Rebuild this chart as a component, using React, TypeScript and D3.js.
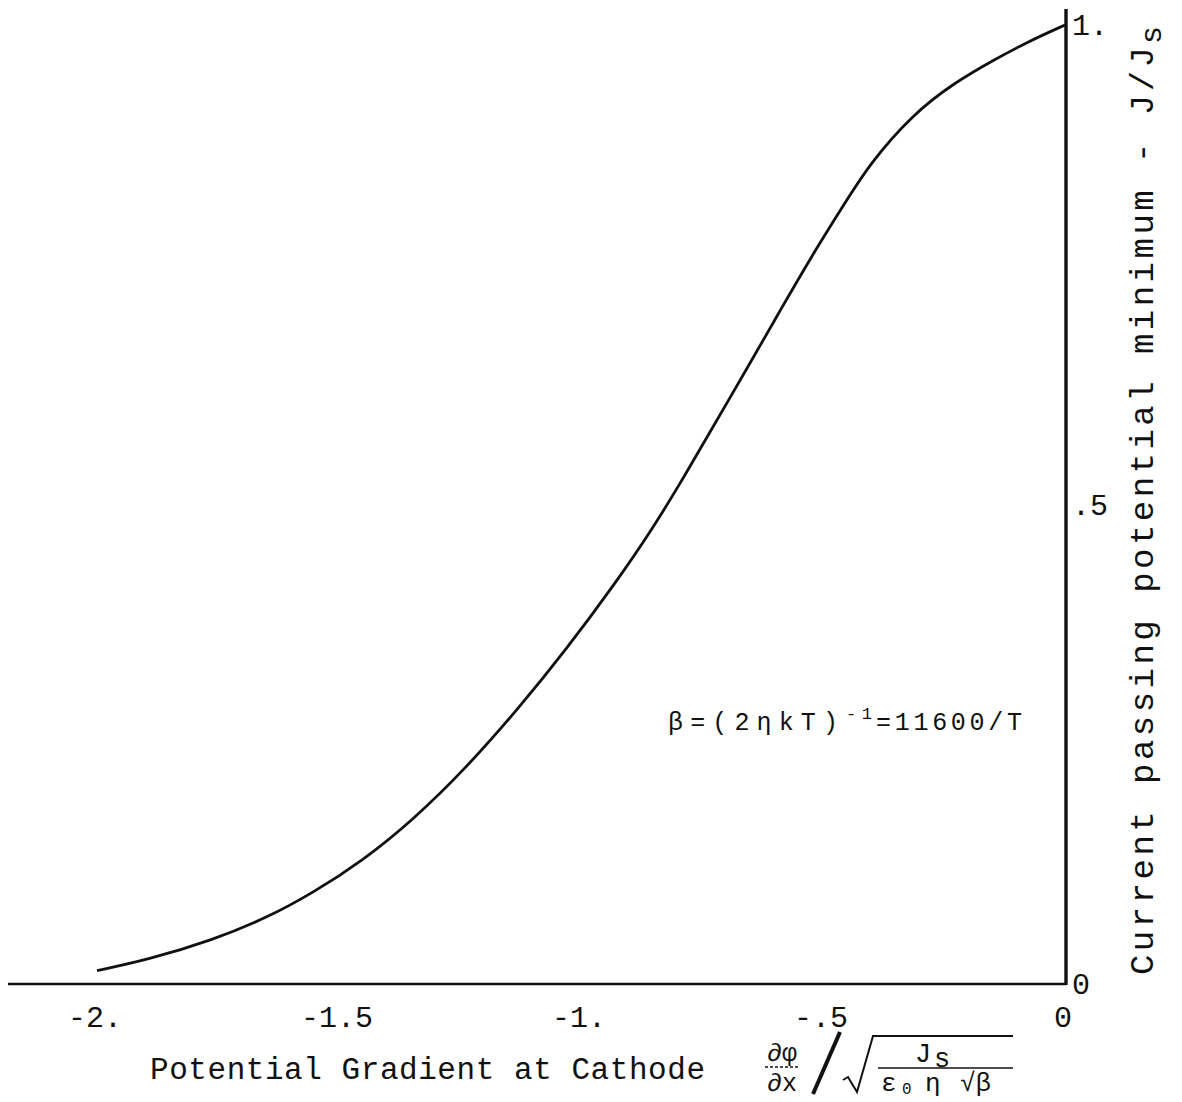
import React from "react";
import * as d3 from "d3";

// Potential gradient at cathode (normalised) and current passing potential minimum J/Js
const gradient = [
  -2.0, -1.897, -1.76, -1.649, -1.554, -1.45, -1.347, -1.236, -1.133, -1.03,
  -0.926, -0.857, -0.795, -0.74, -0.651, -0.589, -0.521, -0.465, -0.403,
  -0.314, -0.231, -0.149, -0.079, 0.0,
];
const currentRatio = [
  0.014, 0.025, 0.046, 0.069, 0.095, 0.129, 0.171, 0.226, 0.285, 0.349,
  0.42, 0.471, 0.522, 0.57, 0.647, 0.702, 0.761, 0.806, 0.856, 0.907,
  0.939, 0.963, 0.982, 1.0,
];

const xTicks = [-2, -1.5, -1, -0.5, 0];
const xTickLabels = ["-2.", "-1.5", "-1.", "-.5", "0"];
const yTicks = [0, 0.5, 1];
const yTickLabels = ["0", ".5", "1."];

const xTitle = "Potential Gradient at Cathode";
const yTitle = "Current passing potential minimum - J/J";
const yTitleSub = "s";

const FONT = "'Liberation Mono', 'Courier New', monospace";
const INK = "#111";

export default function App() {
  const W = 1182;
  const H = 1102;
  const x = d3.scaleLinear().domain([-2, 0]).range([97, 1065]);
  const y = d3.scaleLinear().domain([0, 1]).range([984, 25]);

  const pts: [number, number][] = gradient.map((g, i) => [g, currentRatio[i]]);
  const line = d3
    .line<[number, number]>()
    .x((d) => x(d[0]))
    .y((d) => y(d[1]))
    .curve(d3.curveBasis);

  const x0 = x(0);
  const y0 = y(0);

  return (
    <svg
      width={W}
      height={H}
      style={{ position: "absolute", left: 0, top: 0, background: "#fff" }}
      fontFamily={FONT}
    >
      <rect x={0} y={0} width={W} height={H} fill="#fff" />
      {/* axes */}
      <line x1={8} x2={x0 + 1.5} y1={y0} y2={y0} stroke={INK} strokeWidth={2.6} />
      <line x1={x0 + 1} x2={x0 + 1} y1={9} y2={y0 + 1} stroke={INK} strokeWidth={3.4} />

      {/* curve */}
      <path d={line(pts) || ""} fill="none" stroke={INK} strokeWidth={2.8} />

      {/* x tick labels */}
      {xTicks.map((t, i) => (
        <text
          key={"xt" + i}
          x={x(t) - 2}
          y={1027}
          fontSize={30}
          textAnchor="middle"
          fill={INK}
        >
          {xTickLabels[i]}
        </text>
      ))}

      {/* y tick labels */}
      {yTicks.map((t, i) => (
        <text key={"yt" + i} x={1072} y={y(t) + 10} fontSize={30} fill={INK}>
          {yTickLabels[i]}
        </text>
      ))}

      {/* x title */}
      <text
        x={150}
        y={1079}
        fontSize={31}
        textLength={555}
        lengthAdjust="spacing"
        fill={INK}
      >
        {xTitle}
      </text>

      {/* normalisation formula */}
      <g fill={INK}>
        <text x={782} y={1061} fontSize={25} textAnchor="middle">∂φ</text>
        <line x1={765} x2={800} y1={1067} y2={1067} stroke={INK} strokeWidth={1.5} strokeDasharray="3 2" />
        <text x={782} y={1091} fontSize={25} textAnchor="middle">∂x</text>
        <line x1={840} y1={1032} x2={813} y2={1094} stroke={INK} strokeWidth={4} />
        <path
          d="M843,1080 L848,1077 L857,1092 L873,1036 L1013,1036"
          fill="none"
          stroke={INK}
          strokeWidth={2}
        />
        <text x={915} y={1062} fontSize={27}>J</text>
        <text x={934} y={1067} fontSize={27}>s</text>
        <line x1={878} x2={1013} y1={1068} y2={1068} stroke={INK} strokeWidth={1.5} />
        <text x={881} y={1091} fontSize={26}>ε</text>
        <text x={902} y={1094} fontSize={16}>0</text>
        <text x={925} y={1091} fontSize={26}>η</text>
        <text x={960} y={1091} fontSize={26}>√β</text>
      </g>

      {/* beta annotation */}
      <g fill={INK}>
        <text x={668} y={730} fontSize={25} textLength={170} lengthAdjust="spacing">
          β=(2ηkT)
        </text>
        <text x={846} y={719} fontSize={17} textLength={26} lengthAdjust="spacing">
          -1
        </text>
        <text x={876} y={730} fontSize={25} textLength={146} lengthAdjust="spacing">
          =11600/T
        </text>
      </g>

      {/* y title (rotated) */}
      <g transform="translate(1153, 975) rotate(-90)">
        <text x={0} y={0} fontSize={34} textLength={928} lengthAdjust="spacing" fill={INK}>
          {yTitle}
        </text>
        <text x={931} y={8} fontSize={30} fill={INK}>
          {yTitleSub}
        </text>
      </g>
    </svg>
  );
}
